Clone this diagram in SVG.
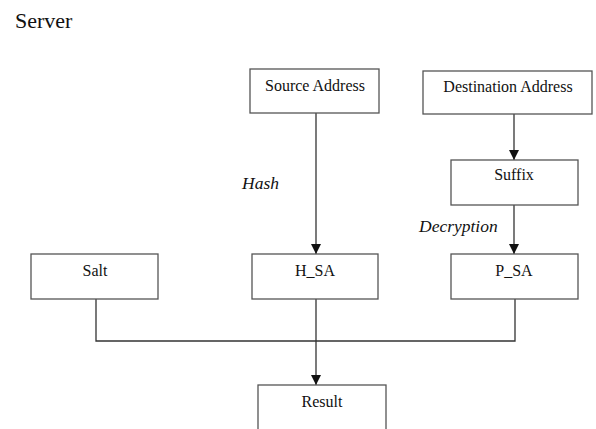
<svg xmlns="http://www.w3.org/2000/svg" width="596" height="429" viewBox="0 0 596 429">
  <style>
    .box { fill: #ffffff; stroke: #555555; stroke-width: 1.3; }
    .serif { font-family: "Liberation Serif", "DejaVu Serif", serif; fill: #111111; }
    .lbl { font-size: 16px; text-anchor: middle; }
    .op { font-size: 17.5px; font-style: italic; }
    .wire { fill: none; stroke: #333333; stroke-width: 1.3; }
  </style>
  <defs>
    <marker id="arrow" viewBox="0 0 10 10" refX="10" refY="5" markerWidth="10" markerHeight="10" markerUnits="userSpaceOnUse" orient="auto">
      <path d="M0,0 L10,5 L0,10 Z" fill="#111111"/>
    </marker>
  </defs>
  <rect width="596" height="429" fill="#ffffff"/>

  <text class="serif" x="15" y="28" font-size="22">Server</text>

  <g id="connectors">
    <line class="wire" x1="316" y1="113" x2="316" y2="254" marker-end="url(#arrow)"/>
    <line class="wire" x1="514" y1="114" x2="514" y2="160" marker-end="url(#arrow)"/>
    <line class="wire" x1="514" y1="205" x2="514" y2="254" marker-end="url(#arrow)"/>
    <polyline class="wire" points="96,299 96,341 515,341 515,299"/>
    <line class="wire" x1="316" y1="299" x2="316" y2="385" marker-end="url(#arrow)"/>
    <text class="serif op" x="242" y="189">Hash</text>
    <text class="serif op" x="419" y="232">Decryption</text>
  </g>

  <g id="source-address">
    <rect class="box" x="250" y="69" width="129" height="44"/>
    <text class="serif lbl" x="315" y="91">Source Address</text>
  </g>
  <g id="destination-address">
    <rect class="box" x="423" y="71" width="169" height="43"/>
    <text class="serif lbl" x="508" y="92">Destination Address</text>
  </g>
  <g id="suffix">
    <rect class="box" x="451" y="160" width="127" height="45"/>
    <text class="serif lbl" x="514" y="180">Suffix</text>
  </g>
  <g id="salt">
    <rect class="box" x="31" y="254" width="127" height="45"/>
    <text class="serif lbl" x="95" y="276">Salt</text>
  </g>
  <g id="h-sa">
    <rect class="box" x="252" y="254" width="126" height="45"/>
    <text class="serif lbl" x="315" y="276">H_SA</text>
  </g>
  <g id="p-sa">
    <rect class="box" x="451" y="254" width="127" height="45"/>
    <text class="serif lbl" x="514" y="276">P_SA</text>
  </g>
  <g id="result">
    <rect class="box" x="258" y="385" width="128" height="60"/>
    <text class="serif lbl" x="322" y="407">Result</text>
  </g>
</svg>
